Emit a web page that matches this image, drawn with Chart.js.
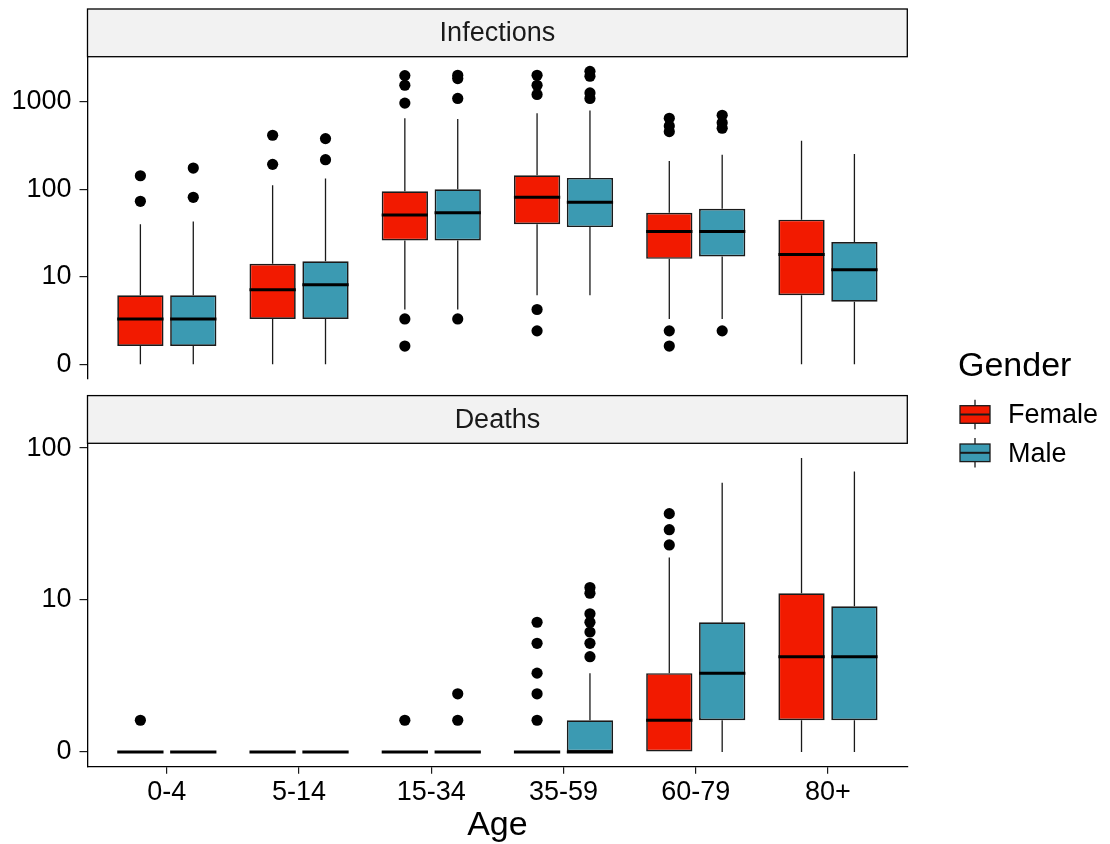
<!DOCTYPE html>
<html>
<head>
  <title>Infections and Deaths by Age</title>
  <script src="https://cdn.jsdelivr.net/npm/chart.js"></script>
  <style>
    body { margin: 0; background: #fff; }
    #wrap { position: relative; width: 1110px; height: 844px; }
    #wrap canvas { position: absolute; left: 0; top: 0; }
  </style>
</head>
<body>
  <div id="wrap">
    <canvas id="inf-chart" width="1110" height="844"></canvas>
    <canvas id="death-chart" width="1110" height="844"></canvas>
  </div>

  <script>
    const ages = ["0-4", "5-14", "15-34", "35-59", "60-79", "80+"];
    const genders = ["Female", "Male"];
    const genderColors = ["#F21A00", "#3B9AB2"];

    // rows: lower whisker, Q1, median, Q3, upper whisker
    const infFemale = [[0, 1, 3, 6, 40], [0, 3, 7, 14, 111], [4, 26, 51, 95, 648],
                       [6, 40, 81, 145, 738], [3, 16, 33, 54, 211], [0, 6, 18, 45, 358]];
    const infMale   = [[0, 1, 3, 6, 43], [0, 3, 8, 15, 133], [4, 26, 54, 100, 637],
                       [6, 37, 71, 135, 798], [3, 17, 33, 60, 248], [0, 5, 12, 25, 253]];
    const infFemaleOut = [[73, 143], [193, 415], [1, 3, 967, 1547, 1993],
                          [2, 4, 1213, 1547, 2009], [1, 2, 456, 530, 648], []];
    const infMaleOut   = [[81, 175], [218, 380], [3, 1093, 1843, 2009],
                          [1093, 1265, 1959, 2229], [2, 499, 578, 701], []];

    const deathFemale = [[0, 0, 0, 0, 0], [0, 0, 0, 0, 0], [0, 0, 0, 0, 0],
                         [0, 0, 0, 0, 0], [0, 0, 1, 3, 19], [0, 1, 4, 11, 86]];
    const deathMale   = [[0, 0, 0, 0, 0], [0, 0, 0, 0, 0], [0, 0, 0, 0, 0],
                         [0, 0, 0, 1, 3], [0, 1, 3, 7, 59], [0, 1, 4, 9, 70]];
    const deathFemaleOut = [[1], [], [1], [1, 2, 3, 5, 7], [23, 29, 37], []];
    const deathMaleOut   = [[], [], [1, 2], [4, 5, 6, 7, 8, 11, 12], [], []];

    const infTicks = [0, 10, 100, 1000];
    const deathTicks = [0, 10, 100];

    Chart.defaults.font.family = "'Liberation Sans', Arial, sans-serif";
    Chart.defaults.color = "#000";

    const FONT = "'Liberation Sans', Arial, sans-serif";
    const STRIP_H = 47.7;

    // ggplot pseudo_log (sigma 1, base 10)
    function pseudoLog(v) {
      return Math.asinh(v / 2) / Math.LN10;
    }

    const boxExtras = {
      id: "boxExtras",
      afterDatasetsDraw(chart) {
        const ctx = chart.ctx;
        const yScale = chart.scales.y;
        const py = v => yScale.getPixelForValue(pseudoLog(v));
        chart.data.datasets.forEach((ds, d) => {
          const meta = chart.getDatasetMeta(d);
          meta.data.forEach((el, i) => {
            const [lo, q1, med, q3, hi] = ds.stats[i];
            const x = el.x, w = el.width;
            ctx.save();
            ctx.strokeStyle = "#1a1a1a";
            ctx.lineWidth = 1.3;
            ctx.beginPath();
            ctx.moveTo(x, py(q3)); ctx.lineTo(x, py(hi));
            ctx.moveTo(x, py(q1)); ctx.lineTo(x, py(lo));
            ctx.stroke();
            ctx.lineWidth = 3;
            ctx.strokeStyle = "#000";
            ctx.beginPath();
            ctx.moveTo(x - w / 2, py(med)); ctx.lineTo(x + w / 2, py(med));
            ctx.stroke();
            ctx.fillStyle = "#000";
            ds.outliers[i].forEach(v => {
              ctx.beginPath();
              ctx.arc(x, py(v), 5.6, 0, Math.PI * 2);
              ctx.fill();
            });
            ctx.restore();
          });
        });
      }
    };

    const stripPlugin = {
      id: "strip",
      afterDraw(chart, args, opts) {
        const ctx = chart.ctx;
        const a = chart.chartArea;
        ctx.save();
        ctx.fillStyle = "#F2F2F2";
        ctx.fillRect(a.left, a.top - STRIP_H, a.right - a.left, STRIP_H);
        ctx.strokeStyle = "#000";
        ctx.lineWidth = 1.3;
        ctx.strokeRect(a.left, a.top - STRIP_H, a.right - a.left, STRIP_H);
        ctx.fillStyle = "#1A1A1A";
        ctx.font = "27px " + FONT;
        ctx.textAlign = "center";
        ctx.textBaseline = "middle";
        ctx.fillText(opts.text, (a.left + a.right) / 2, a.top - STRIP_H / 2 + 1);
        ctx.restore();
      }
    };

    const legendPlugin = {
      id: "genderLegend",
      afterDraw(chart) {
        const ctx = chart.ctx;
        const x0 = 960, keyW = 30, keyH = 17.6;
        ctx.save();
        ctx.fillStyle = "#000";
        ctx.font = "34px " + FONT;
        ctx.textAlign = "left";
        ctx.textBaseline = "alphabetic";
        ctx.fillText("Gender", x0 - 2, 376);
        genders.forEach((g, k) => {
          const top = 405.7 + k * 38.3;
          const cx = x0 + keyW / 2;
          ctx.strokeStyle = "#1a1a1a";
          ctx.lineWidth = 1.3;
          ctx.beginPath();
          ctx.moveTo(cx, top - 6); ctx.lineTo(cx, top);
          ctx.moveTo(cx, top + keyH); ctx.lineTo(cx, top + keyH + 6);
          ctx.stroke();
          ctx.fillStyle = genderColors[k];
          ctx.fillRect(x0, top, keyW, keyH);
          ctx.strokeRect(x0, top, keyW, keyH);
          ctx.lineWidth = 2;
          ctx.beginPath();
          ctx.moveTo(x0, top + keyH / 2); ctx.lineTo(x0 + keyW, top + keyH / 2);
          ctx.stroke();
          ctx.fillStyle = "#000";
          ctx.font = "27px " + FONT;
          ctx.fillText(g, 1008, top + keyH);
        });
        ctx.restore();
      }
    };

    function makeChart(canvasId, title, stats, outliers, tickVals, bottomPanel) {
      let maxT = 0;
      [0, 1].forEach(g => {
        stats[g].forEach(r => r.forEach(v => { maxT = Math.max(maxT, pseudoLog(v)); }));
        outliers[g].forEach(r => r.forEach(v => { maxT = Math.max(maxT, pseudoLog(v)); }));
      });
      const yMin = -0.05 * maxT;
      const yMax = maxT * 1.05;

      const datasets = genders.map((g, k) => ({
        label: g,
        data: stats[k].map((r, i) => ({ x: i + 1, y: [pseudoLog(r[1]), pseudoLog(r[3])] })),
        stats: stats[k],
        outliers: outliers[k],
        backgroundColor: genderColors[k],
        borderColor: "#1a1a1a",
        borderWidth: 1.7,
        borderSkipped: false,
        categoryPercentage: 0.8,
        barPercentage: 0.875
      }));

      const axisGrid = {
        display: true, drawOnChartArea: false, drawTicks: true,
        color: "#1a1a1a", lineWidth: 1.2, offset: false
      };

      return new Chart(document.getElementById(canvasId), {
        type: "bar",
        data: { datasets: datasets },
        plugins: bottomPanel ? [boxExtras, stripPlugin, legendPlugin] : [boxExtras, stripPlugin],
        options: {
          responsive: false,
          animation: false,
          layout: {
            padding: bottomPanel
              ? { top: 443.3, bottom: 0, left: 0, right: 202.7 }
              : { top: 56.7, bottom: 465, left: 0, right: 202.7 }
          },
          plugins: {
            legend: { display: false },
            tooltip: { enabled: false },
            strip: { text: title }
          },
          scales: {
            x: {
              type: "linear",
              display: bottomPanel,
              min: 0.4,
              max: ages.length + 0.6,
              offset: false,
              bounds: "data",
              afterBuildTicks: s => { s.ticks = ages.map((a, i) => ({ value: i + 1 })); },
              afterFit: s => { if (bottomPanel) s.height = 77.3; },
              ticks: {
                callback: (v, i) => ages[i],
                font: { size: 27 },
                color: "#000",
                padding: 3,
                maxRotation: 0,
                autoSkip: false
              },
              grid: Object.assign({ tickLength: 7 }, axisGrid),
              border: { display: true, color: "#000", width: 1.3 },
              title: {
                display: true, text: "Age", color: "#000",
                font: { size: 34, lineHeight: 1 },
                padding: { top: 0, bottom: 1 }
              }
            },
            y: {
              type: "linear",
              min: yMin,
              max: yMax,
              bounds: "data",
              afterBuildTicks: s => { s.ticks = tickVals.map(v => ({ value: pseudoLog(v) })); },
              afterFit: s => { s.width = 87.5; },
              ticks: {
                callback: (v, i) => String(tickVals[i]),
                font: { size: 27 },
                color: "#000",
                padding: 8
              },
              grid: Object.assign({ tickLength: 8 }, axisGrid),
              border: { display: true, color: "#000", width: 1.3 }
            }
          }
        }
      });
    }

    makeChart("inf-chart", "Infections", [infFemale, infMale], [infFemaleOut, infMaleOut], infTicks, false);
    makeChart("death-chart", "Deaths", [deathFemale, deathMale], [deathFemaleOut, deathMaleOut], deathTicks, true);
  </script>
</body>
</html>
